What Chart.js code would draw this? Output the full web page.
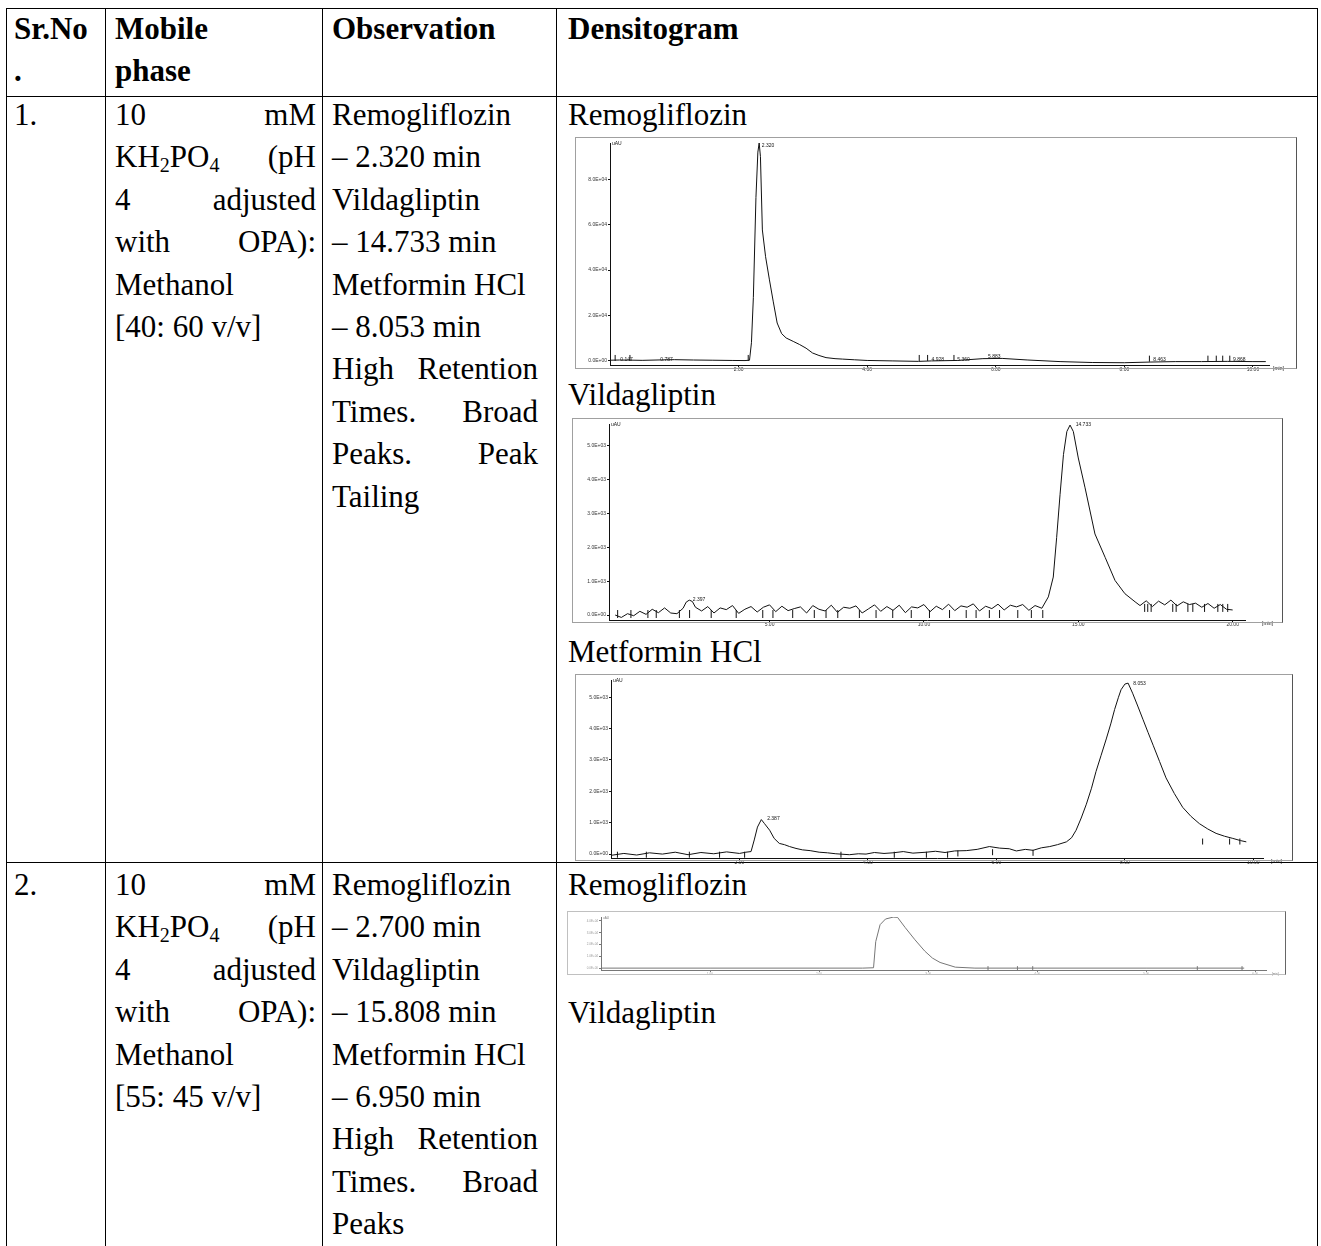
<!DOCTYPE html>
<html>
<head>
<meta charset="utf-8">
<title>Mobile phase trials - densitograms</title>
<script src="https://cdn.jsdelivr.net/npm/chart.js@4.4.1/dist/chart.umd.min.js"></script>
<style>
  body { margin: 0; background: #fff; }
  #page { position: relative; width: 1321px; height: 1246px; overflow: hidden;
          font-family: "Liberation Serif", "Times New Roman", serif; font-size: 31px; color: #000; }
  .vl { position: absolute; top: 8px; width: 1px; height: 1240px; background: #000; }
  .hl { position: absolute; left: 6px; width: 1312px; height: 1px; background: #000; }
  .t { position: absolute; height: 42.4px; line-height: 42.4px; white-space: nowrap; }
  .b { font-weight: bold; }
  .j { display: flex; justify-content: space-between; }
  sub { font-size: 20px; line-height: 0; vertical-align: -5px; }
  .frame { position: absolute; box-sizing: border-box; border: 1px solid #a0a0a0; border-right-color: #555; }
  canvas { position: absolute; }
</style>
</head>
<body>
<div id="page">
  <!-- table rules -->
  <div class="hl" style="top:8px"></div>
  <div class="hl" style="top:96px"></div>
  <div class="hl" style="top:862px"></div>
  <div class="vl" style="left:6px"></div>
  <div class="vl" style="left:105px"></div>
  <div class="vl" style="left:322px"></div>
  <div class="vl" style="left:556px"></div>
  <div class="vl" style="left:1317px"></div>

  <!-- header -->
  <div class="t b" style="left:14px;top:8px">Sr.No</div>
  <div class="t b" style="left:14px;top:50.4px">.</div>
  <div class="t b" style="left:115px;top:8px">Mobile</div>
  <div class="t b" style="left:115px;top:50.4px">phase</div>
  <div class="t b" style="left:332px;top:8px">Observation</div>
  <div class="t b" style="left:568px;top:8px">Densitogram</div>

  <!-- row 1 -->
  <div class="t" style="left:14px;top:94px">1.</div>
  <div class="t j" style="left:115px;top:94px;width:201px"><span>10</span><span>mM</span></div>
  <div class="t j" style="left:115px;top:136.4px;width:201px"><span>KH<sub>2</sub>PO<sub>4</sub></span><span>(pH</span></div>
  <div class="t j" style="left:115px;top:178.8px;width:201px"><span>4</span><span>adjusted</span></div>
  <div class="t j" style="left:115px;top:221.2px;width:201px"><span>with</span><span>OPA):</span></div>
  <div class="t" style="left:115px;top:263.6px">Methanol</div>
  <div class="t" style="left:115px;top:306px">[40: 60 v/v]</div>

  <div class="t" style="left:332px;top:94px">Remogliflozin</div>
  <div class="t" style="left:332px;top:136.4px">– 2.320 min</div>
  <div class="t" style="left:332px;top:178.8px">Vildagliptin</div>
  <div class="t" style="left:332px;top:221.2px">– 14.733 min</div>
  <div class="t" style="left:332px;top:263.6px">Metformin HCl</div>
  <div class="t" style="left:332px;top:306px">– 8.053 min</div>
  <div class="t j" style="left:332px;top:348.4px;width:206px"><span>High</span><span>Retention</span></div>
  <div class="t j" style="left:332px;top:390.8px;width:206px"><span>Times.</span><span>Broad</span></div>
  <div class="t j" style="left:332px;top:433.2px;width:206px"><span>Peaks.</span><span>Peak</span></div>
  <div class="t" style="left:332px;top:475.6px">Tailing</div>

  <div class="t" style="left:568px;top:94px">Remogliflozin</div>
  <div class="t" style="left:568px;top:374px">Vildagliptin</div>
  <div class="t" style="left:568px;top:631px">Metformin HCl</div>

  <!-- row 2 -->
  <div class="t" style="left:14px;top:864px">2.</div>
  <div class="t j" style="left:115px;top:864px;width:201px"><span>10</span><span>mM</span></div>
  <div class="t j" style="left:115px;top:906.4px;width:201px"><span>KH<sub>2</sub>PO<sub>4</sub></span><span>(pH</span></div>
  <div class="t j" style="left:115px;top:948.8px;width:201px"><span>4</span><span>adjusted</span></div>
  <div class="t j" style="left:115px;top:991.2px;width:201px"><span>with</span><span>OPA):</span></div>
  <div class="t" style="left:115px;top:1033.6px">Methanol</div>
  <div class="t" style="left:115px;top:1076px">[55: 45 v/v]</div>

  <div class="t" style="left:332px;top:864px">Remogliflozin</div>
  <div class="t" style="left:332px;top:906.4px">– 2.700 min</div>
  <div class="t" style="left:332px;top:948.8px">Vildagliptin</div>
  <div class="t" style="left:332px;top:991.2px">– 15.808 min</div>
  <div class="t" style="left:332px;top:1033.6px">Metformin HCl</div>
  <div class="t" style="left:332px;top:1076px">– 6.950 min</div>
  <div class="t j" style="left:332px;top:1118.4px;width:206px"><span>High</span><span>Retention</span></div>
  <div class="t j" style="left:332px;top:1160.8px;width:206px"><span>Times.</span><span>Broad</span></div>
  <div class="t" style="left:332px;top:1203.2px">Peaks</div>

  <div class="t" style="left:568px;top:864px">Remogliflozin</div>
  <div class="t" style="left:568px;top:992px">Vildagliptin</div>

  <!-- densitograms -->
  <canvas id="remo1" width="720" height="240" style="left:576px;top:138px"></canvas>
  <div class="frame" style="left:575px;top:137px;width:722px;height:232px"></div>
  <canvas id="vilda1" width="709" height="214" style="left:573px;top:419px"></canvas>
  <div class="frame" style="left:572px;top:418px;width:711px;height:205px"></div>
  <canvas id="met1" width="717" height="196" style="left:576px;top:675px"></canvas>
  <div class="frame" style="left:575px;top:674px;width:718px;height:187px"></div>
  <canvas id="remo2" width="717" height="70" style="left:568px;top:912px"></canvas>
  <div class="frame" style="left:567px;top:911px;width:719px;height:64px;border-color:#c0c0c0;border-right-color:#666"></div>
</div>

<script>
// Remogliflozin, trial 1 (uAU vs min)
var remo1Time = [0, 0.15, 0.3, 0.5, 0.8, 1.0, 1.3, 1.6, 1.9, 2.1, 2.17, 2.20, 2.23, 2.27, 2.30, 2.32, 2.34, 2.37, 2.42, 2.48,
  2.54, 2.60, 2.67, 2.74, 2.85, 2.95, 3.05, 3.15, 3.25, 3.36, 3.5, 3.62, 3.8, 4.0, 4.4, 4.8, 5.0, 5.4, 5.8, 6.1,
  6.5, 7.0, 7.5, 8.0, 8.4, 8.8, 9.2, 9.6, 10.0, 10.2];
var remo1Value = [300, 400, 350, 250, 450, 550, 400, 300, 200, 150, 300, 8000, 28000, 72000, 92000, 96000, 90000, 57700, 45900, 35700,
  26000, 16700, 12000, 10100, 8600, 7200, 5600, 3500, 2400, 1450, 1000, 800, 500, 200, 0, -200, 0, 200, 1000, 1100,
  400, -300, -700, -800, -500, -300, -300, -200, -300, -300];
var remo1MarkTime = [0.08, 0.31, 2.15, 4.81, 4.94, 5.35, 8.39, 9.30, 9.43, 9.53, 9.64];
var remo1MarkValue = [1300, 1300, 1300, 1300, 1300, 1300, 1000, 1000, 1000, 1000, 1000];
var remo1LabelTime = [0.13, 0.75, 2.33, 4.97, 5.37, 5.85, 8.42, 9.66];
var remo1LabelValue = [700, 700, 95000, 700, 700, 1800, 500, 500];
var remo1LabelText = ['0.147', '0.787', '2.320', '4.928', '5.360', '5.883', '8.463', '9.868'];
var remo1XTicks = [2, 4, 6, 8, 10];
var remo1YTicks = [0, 20000, 40000, 60000, 80000];

// Vildagliptin, trial 1
var vildaTime = [0.0, 0.2, 0.4, 0.6, 0.8, 1.0, 1.2, 1.4, 1.6, 1.8, 2.0, 2.2, 2.3, 2.4, 2.5, 2.6, 2.8, 3.0, 3.2, 3.4,
  3.6, 3.8, 4.0, 4.2, 4.4, 4.6, 4.8, 5.0, 5.2, 5.4, 5.6, 5.8, 6.0, 6.2, 6.4, 6.6, 6.8, 7.0, 7.2, 7.4,
  7.6, 7.8, 8.0, 8.2, 8.4, 8.6, 8.8, 9.0, 9.2, 9.4, 9.6, 9.8, 10.0, 10.2, 10.4, 10.6, 10.8, 11.0, 11.2, 11.4,
  11.6, 11.8, 12.0, 12.2, 12.4, 12.6, 12.8, 13.0, 13.2, 13.4, 13.6, 13.82, 14.03, 14.19, 14.30, 14.41, 14.52, 14.63, 14.733, 14.84,
  15.00, 15.22, 15.54, 15.87, 16.19, 16.51, 16.84, 17.0, 17.2, 17.4, 17.6, 17.8, 18.0, 18.2, 18.4, 18.6, 18.8, 19.0, 19.2, 19.4,
  19.6, 19.8, 20.0];
var vildaValue = [0, -70, 40, -20, 110, 20, 170, 70, 210, 60, 40, 200, 380, 440, 400, 230, 120, 250, 60, 210,
  160, 280, 50, 170, 250, 90, 230, 300, 100, 260, 130, 190, 240, 60, 280, 170, 120, 290, 80, 230,
  200, 270, 60, 180, 300, 110, 250, 140, 290, 70, 240, 210, 310, 100, 260, 160, 320, 130, 270, 230,
  330, 120, 260, 190, 320, 150, 290, 240, 310, 140, 280, 200, 535, 1120, 2290, 3560, 4730, 5410, 5600, 5410,
  4630, 3750, 2390, 1700, 1020, 630, 390, 280, 420, 250, 410, 300, 440, 270, 390, 310, 350, 230, 340, 200,
  310, 170, 150];
var vildaMarkTime = [0.08, 0.51, 1.06, 1.33, 2.08, 2.41, 3.11, 3.92, 4.78, 5.11, 5.75, 6.45, 6.83, 7.21, 7.91, 8.45, 8.99, 9.59, 10.18, 10.83,
  11.37, 11.69, 12.12, 12.45, 13.04, 13.48, 13.85, 17.15, 17.25, 17.36, 18.06, 18.17, 18.55, 18.71, 19.09, 19.52, 19.68, 19.84];
var vildaMarkValue = [30, 30, 30, 30, 30, 30, 30, 30, 30, 30, 30, 30, 30, 30, 30, 30, 30, 30, 30, 30,
  30, 30, 30, 30, 30, 30, 30, 210, 210, 210, 210, 210, 210, 210, 210, 210, 210, 210];
var vildaLabelTime = [2.45, 14.85];
var vildaLabelValue = [460, 5600];
var vildaLabelText = ['2.397', '14.733'];
var vildaXTicks = [5, 10, 15, 20];
var vildaYTicks = [0, 1000, 2000, 3000, 4000, 5000];

// Metformin HCl, trial 1
var metTime = [0.0, 0.2, 0.4, 0.6, 0.8, 1.0, 1.2, 1.4, 1.6, 1.8, 2.0, 2.1, 2.18, 2.23, 2.28, 2.34, 2.39, 2.47, 2.54, 2.62,
  2.70, 2.78, 2.88, 2.98, 3.1, 3.24, 3.37, 3.50, 3.71, 3.85, 3.97, 4.1, 4.25, 4.39, 4.55, 4.7, 4.91, 5.05, 5.2, 5.35,
  5.53, 5.7, 5.89, 6.05, 6.2, 6.31, 6.45, 6.57, 6.7, 6.83, 6.95, 7.09, 7.17, 7.24, 7.32, 7.40, 7.48, 7.55, 7.63, 7.71,
  7.78, 7.84, 7.90, 7.94, 8.00, 8.05, 8.12, 8.20, 8.28, 8.36, 8.44, 8.54, 8.64, 8.77, 8.90, 9.03, 9.16, 9.29, 9.42, 9.55,
  9.68, 9.80, 9.89];
var metValue = [-40, 20, -30, 40, 0, 60, -20, 50, 10, 70, 20, 60, 80, 450, 860, 1100, 970, 760, 500, 340,
  300, 240, 180, 135, 110, 60, 40, 10, -20, 10, 0, 50, 20, 40, 80, 30, 60, 90, 50, 100,
  110, 150, 240, 190, 170, 100, 150, 120, 200, 240, 300, 390, 520, 760, 1150, 1590, 2100, 2630, 3150, 3670,
  4150, 4610, 5000, 5240, 5420, 5450, 5130, 4720, 4300, 3880, 3470, 2950, 2430, 1930, 1490, 1200, 970, 800, 660, 570,
  500, 430, 390];
var metMarkTime = [0.10, 0.55, 1.22, 1.69, 2.08, 3.58, 4.41, 4.91, 5.24, 5.40, 5.94, 6.57, 9.21, 9.63, 9.79];
var metMarkValue = [-20, -20, -20, -20, -20, -20, -20, -20, -20, 20, 60, 40, 400, 400, 400];
var metLabelTime = [2.40, 8.10];
var metLabelValue = [1120, 5450];
var metLabelText = ['2.387', '8.053'];
var metXTicks = [2, 4, 6, 8, 10];
var metYTicks = [0, 1000, 2000, 3000, 4000, 5000];

// Remogliflozin, trial 2
var remo2Time = [0, 1.0, 2.0, 2.40, 2.50, 2.52, 2.56, 2.61, 2.68, 2.72, 2.79, 2.88, 2.97, 3.04, 3.11, 3.25, 3.43, 4.0, 5.0, 5.9];
var remo2Value = [0, 0, 0, 0, 300, 22400, 36800, 41600, 43200, 43000, 34400, 24000, 14400, 8500, 4800, 800, 0, 0, 0, 0];
var remo2MarkTime = [3.55, 3.82, 3.96, 5.47, 5.88];
var remo2MarkValue = [0, 0, 0, 0, 0];
var remo2XTicks = [1, 2, 3, 4, 5, 6];
var remo2YTicks = [0, 10000, 20000, 30000, 40000];

function sci(v) {
  if (v === 0) return '0.0E+00';
  var e = Math.floor(Math.log10(Math.abs(v)));
  var m = v / Math.pow(10, e);
  return m.toFixed(1) + 'E+' + (e < 10 ? '0' : '') + e;
}

function pairs(xs, ys) {
  return xs.map(function (x, i) { return { x: x, y: ys[i] }; });
}

function fixedTicks(list) {
  return function (scale) {
    scale.ticks = list.map(function (v) { return { value: v }; });
  };
}

// small text on the densitograms: peak times, unit and axis name
var peakText = {
  id: 'peakText',
  afterDatasetsDraw: function (chart, args, o) {
    var ctx = chart.ctx, xs = chart.scales.x, ys = chart.scales.y, a = chart.chartArea;
    ctx.save();
    ctx.fillStyle = o.color;
    ctx.font = o.size + 'px "Liberation Sans"';
    ctx.textBaseline = 'middle';
    (o.times || []).forEach(function (t, i) {
      ctx.fillText(o.texts[i], xs.getPixelForValue(t) + 2, ys.getPixelForValue(o.values[i]));
    });
    ctx.fillText('uAU', a.left + 2, a.top + 1);
    ctx.fillText('[min]', a.right + o.minDx, a.bottom + 4);
    ctx.restore();
  }
};
Chart.register(peakText);

function makeChart(id, s) {
  var tickFont = { size: s.font, family: 'Liberation Sans' };
  return new Chart(document.getElementById(id), {
    type: 'line',
    data: {
      datasets: [
        { data: pairs(s.time, s.value), borderColor: s.color, borderWidth: 1, pointRadius: 0, tension: 0, fill: false },
        { data: pairs(s.markTime, s.markValue), showLine: false, pointStyle: 'line', pointRotation: 90,
          pointRadius: s.markSize, pointBorderColor: s.color, pointBorderWidth: 1 }
      ]
    },
    options: {
      responsive: false,
      animation: false,
      events: [],
      layout: { padding: { top: s.padTop, right: s.padRight, left: 0, bottom: 0 } },
      plugins: {
        legend: { display: false },
        tooltip: { enabled: false },
        peakText: { times: s.labelTime, values: s.labelValue, texts: s.labelText,
                    color: s.color, size: s.font, minDx: s.minDx }
      },
      scales: {
        x: {
          type: 'linear', min: s.xMin, max: s.xMax,
          afterBuildTicks: fixedTicks(s.xTicks),
          afterFit: function (sc) { sc.height = s.xH; },
          border: { color: s.color, width: 1 },
          grid: { drawOnChartArea: false, tickLength: 2, color: s.color },
          ticks: { autoSkip: false, maxRotation: 0, padding: 0, color: s.tickColor, font: tickFont,
                   callback: function (v) { return v.toFixed(2); } }
        },
        y: {
          min: s.yMin, max: s.yMax,
          afterBuildTicks: fixedTicks(s.yTicks),
          afterFit: function (sc) { sc.width = s.yW; },
          border: { color: s.color, width: 1 },
          grid: { drawOnChartArea: false, tickLength: 2, color: s.color },
          ticks: { autoSkip: false, padding: 1, color: s.tickColor, font: tickFont, callback: sci }
        }
      }
    }
  });
}

makeChart('remo1', {
  time: remo1Time, value: remo1Value, markTime: remo1MarkTime, markValue: remo1MarkValue, markSize: 3,
  labelTime: remo1LabelTime, labelValue: remo1LabelValue, labelText: remo1LabelText,
  xTicks: remo1XTicks, yTicks: remo1YTicks,
  xMin: 0, xMax: 10.25, yMin: -1800, yMax: 96000,
  yW: 34, xH: 13, padTop: 5, padRight: 27, minDx: 4,
  color: '#111', tickColor: '#333', font: 5
});

makeChart('vilda1', {
  time: vildaTime, value: vildaValue, markTime: vildaMarkTime, markValue: vildaMarkValue, markSize: 4,
  labelTime: vildaLabelTime, labelValue: vildaLabelValue, labelText: vildaLabelText,
  xTicks: vildaXTicks, yTicks: vildaYTicks,
  xMin: -0.2, xMax: 20.4, yMin: -146, yMax: 5632,
  yW: 36, xH: 13, padTop: 4, padRight: 37, minDx: 17,
  color: '#111', tickColor: '#333', font: 5
});

makeChart('met1', {
  time: metTime, value: metValue, markTime: metMarkTime, markValue: metMarkValue, markSize: 3,
  labelTime: metLabelTime, labelValue: metLabelValue, labelText: metLabelText,
  xTicks: metXTicks, yTicks: metYTicks,
  xMin: 0, xMax: 10.15, yMin: -125, yMax: 5550,
  yW: 35, xH: 13, padTop: 2, padRight: 30, minDx: 8,
  color: '#111', tickColor: '#333', font: 5
});

makeChart('remo2', {
  time: remo2Time, value: remo2Value, markTime: remo2MarkTime, markValue: remo2MarkValue, markSize: 2,
  labelTime: [], labelValue: [], labelText: [],
  xTicks: remo2XTicks, yTicks: remo2YTicks,
  xMin: 0, xMax: 6.1, yMin: -1600, yMax: 43300,
  yW: 33, xH: 12, padTop: 2, padRight: 19, minDx: 6,
  color: '#777', tickColor: '#999', font: 3
});
</script>
</body>
</html>
